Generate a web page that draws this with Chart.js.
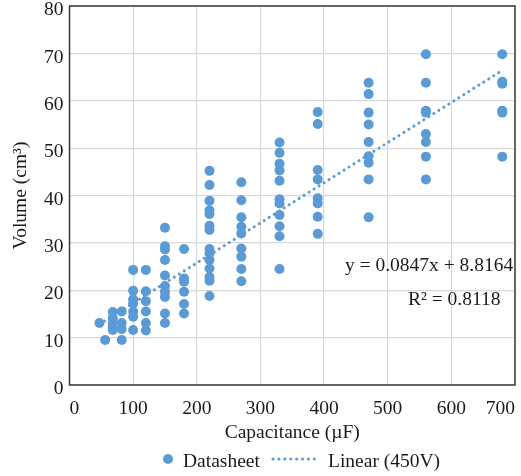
<!DOCTYPE html>
<html>
<head>
<meta charset="utf-8">
<script src="https://cdn.jsdelivr.net/npm/chart.js@4.4.0/dist/chart.umd.min.js"></script>
<style>
  html, body { margin: 0; padding: 0; background: #fff; }
</style>
</head>
<body>
<canvas id="scatterChart" width="521" height="476"></canvas>
<script>
// capacitor ratings (uF) and the can volumes (cm3) listed for each rating
let capValues = [47, 56, 68, 82, 100, 120, 150, 180, 220, 270, 330, 390, 470, 560, 680];
let volumeByCap = [
    [13.1],
    [9.5],
    [15.4, 14.1, 13.0, 12.1, 11.6],
    [15.5, 13.1, 11.8, 9.5],
    [24.3, 19.9, 18.1, 17.2, 15.5, 14.4, 11.6],
    [24.3, 19.8, 17.7, 15.5, 13.1, 11.5],
    [33.2, 29.3, 28.6, 26.4, 23.1, 20.9, 19.7, 18.6, 15.1, 13.1],
    [28.7, 22.5, 21.8, 19.7, 17.1, 15.1],
    [45.2, 42.2, 38.9, 36.9, 36.1, 33.6, 32.7, 28.7, 27.8, 26.4, 24.6, 22.8, 22.0, 18.8],
    [42.8, 39.0, 35.4, 33.4, 32.0, 28.8, 27.1, 24.5, 21.9],
    [51.2, 49.0, 46.7, 45.3, 43.1, 39.2, 38.3, 35.9, 33.5, 31.4, 24.5],
    [57.6, 55.1, 45.4, 43.4, 39.4, 38.3, 35.5, 31.9],
    [63.8, 61.4, 57.5, 55.0, 51.3, 48.3, 46.9, 43.4, 35.4],
    [69.8, 63.8, 57.9, 57.5, 53.0, 51.3, 48.2, 43.4],
    [69.8, 64.0, 63.6, 57.9, 57.5, 48.2]
];

// linear fit as printed on the chart
let trendSlope = 0.0847;
let trendIntercept = 8.8164;
let trendRsq = 0.8118;
let trendRange = [47, 680];

let xTicks = [0, 100, 200, 300, 400, 500, 600, 700];
let yTicks = [0, 10, 20, 30, 40, 50, 60, 70, 80];

const BLUE = 'rgb(91, 155, 213)';
const TEXT = '#1a1a1a';
const SERIF = "'Liberation Serif', 'Times New Roman', serif";
const FONT_SIZE = 19.5;

let points = [];
capValues.forEach((c, i) => {
    volumeByCap[i].forEach(v => points.push({x: c, y: v}));
});

let trendPoints = trendRange.map(x => ({x: x, y: trendSlope * x + trendIntercept}));

function drawDots(ctx, x1, y1, x2, y2) {
    ctx.save();
    ctx.strokeStyle = BLUE;
    ctx.lineWidth = 3;
    ctx.lineCap = 'round';
    ctx.setLineDash([0.1, 5.8]);
    ctx.beginPath();
    ctx.moveTo(x1, y1);
    ctx.lineTo(x2, y2);
    ctx.stroke();
    ctx.restore();
}

// plot frame, fit equation and the legend underneath
const extras = {
    id: 'extras',
    beforeDatasetsDraw(chart) {
        const {ctx, chartArea: a} = chart;
        ctx.save();
        ctx.strokeStyle = '#3a3a3a';
        ctx.lineWidth = 1.5;
        ctx.strokeRect(a.left, a.top, a.right - a.left, a.bottom - a.top);
        ctx.restore();
    },
    afterDraw(chart) {
        const ctx = chart.ctx;
        ctx.save();
        ctx.font = FONT_SIZE + 'px ' + SERIF;
        ctx.fillStyle = TEXT;
        ctx.textBaseline = 'alphabetic';
        ctx.textAlign = 'left';
        ctx.fillText('y = ' + trendSlope + 'x + ' + trendIntercept, 345, 271);
        ctx.fillText('R² = ' + trendRsq, 408, 305);

        // legend
        ctx.fillStyle = BLUE;
        ctx.beginPath();
        ctx.arc(168, 459, 5, 0, Math.PI * 2);
        ctx.fill();
        ctx.fillStyle = TEXT;
        ctx.fillText('Datasheet', 183, 467);
        drawDots(ctx, 273, 459, 317, 459);
        ctx.fillText('Linear (450V)', 328, 467);
        ctx.restore();
    }
};

let ctx = document.getElementById('scatterChart').getContext('2d');
let chart = new Chart(ctx, {
    type: 'scatter',
    data: {
        datasets: [{
            label: 'Datasheet',
            data: points,
            backgroundColor: BLUE,
            borderWidth: 0,
            pointRadius: 5,
            pointHoverRadius: 5
        },
        {
            type: 'line',
            label: 'Linear (450V)',
            data: trendPoints,
            borderColor: BLUE,
            borderWidth: 3,
            borderDash: [0.1, 5.8],
            borderCapStyle: 'round',
            pointRadius: 0,
            fill: false
        }]
    },
    options: {
        responsive: false,
        animation: false,
        layout: { padding: { top: 6, right: 6, bottom: 0, left: 0 } },
        plugins: {
            legend: { display: false },
            tooltip: { enabled: false }
        },
        scales: {
            x: {
                type: 'linear',
                min: 0,
                max: 700,
                afterBuildTicks: s => { s.ticks = xTicks.map(v => ({value: v})); },
                ticks: {
                    align: 'inner',
                    padding: 12,
                    color: TEXT,
                    font: { family: SERIF, size: FONT_SIZE }
                },
                grid: { color: '#d9d9d9', lineWidth: 1.2, drawTicks: false },
                border: { display: false },
                title: {
                    display: true,
                    text: 'Capacitance (µF)',
                    color: TEXT,
                    font: { family: SERIF, size: FONT_SIZE, lineHeight: 1.2 },
                    padding: { top: 0, bottom: 31 }
                },
                afterFit: s => { s.height = 476 - 385; s.paddingLeft = 0; s.paddingRight = 0; }
            },
            y: {
                min: 0,
                max: 80,
                afterBuildTicks: s => { s.ticks = yTicks.map(v => ({value: v})); },
                ticks: {
                    padding: 6,
                    labelOffset: 4,
                    color: TEXT,
                    font: { family: SERIF, size: FONT_SIZE }
                },
                grid: { color: '#d9d9d9', lineWidth: 1.2, drawTicks: false },
                border: { display: false },
                title: {
                    display: true,
                    text: 'Volume (cm³)',
                    color: TEXT,
                    font: { family: SERIF, size: FONT_SIZE, lineHeight: 1.2 },
                    padding: { top: 9, bottom: 0 }
                },
                afterFit: s => { s.width = 69.5; s.paddingTop = 0; s.paddingBottom = 0; }
            }
        }
    },
    plugins: [extras]
});
</script>
</body>
</html>
